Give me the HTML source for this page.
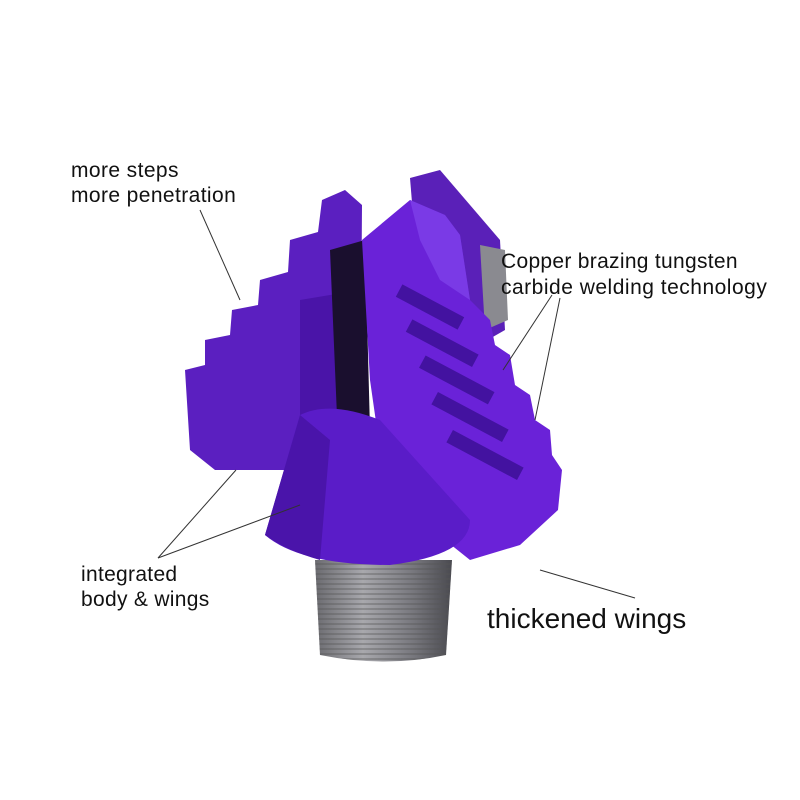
<!DOCTYPE html>
<html><head><meta charset="utf-8"><style>
html,body{margin:0;padding:0;background:#fff}
svg{display:block}
text{font-family:"Liberation Sans",Arial,sans-serif;fill:#111}
</style></head><body>
<svg width="800" height="800" viewBox="0 0 800 800" xmlns="http://www.w3.org/2000/svg">
<defs>
<linearGradient id="thr" x1="0" x2="1">
<stop offset="0" stop-color="#6b6b70"/><stop offset="0.35" stop-color="#a8a8ad"/><stop offset="0.7" stop-color="#7a7a80"/><stop offset="1" stop-color="#4a4a50"/>
</linearGradient>
<pattern id="lines" width="6" height="5" patternUnits="userSpaceOnUse">
<rect width="6" height="5" fill="none"/><line x1="0" y1="4" x2="6" y2="4" stroke="#555" stroke-width="1.2"/>
</pattern>
</defs>
<path d="M315 560 L452 560 L446 655 Q385 668 320 655 Z" fill="url(#thr)"/>
<path d="M315 560 L452 560 L446 655 Q385 668 320 655 Z" fill="url(#lines)" opacity="0.6"/>
<polygon points="410,178 440,170 500,240 505,330 470,350 420,300" fill="#5a20b8"/>
<polygon points="480,245 505,250 508,320 485,330" fill="#8a8a90"/>
<polygon points="185,370 205,365 205,340 230,335 232,310 258,305 260,280 288,272 290,240 318,232 322,200 345,190 362,205 360,480 300,470 215,470 190,450" fill="#5b1fc0"/>
<polygon points="300,300 360,290 360,480 300,470" fill="#4a14a8"/>
<polygon points="330,250 365,240 370,430 338,440" fill="#1a0f2e"/>
<polygon points="362,240 410,200 445,215 460,235 470,300 490,320 495,345 510,355 515,385 530,395 535,420 550,430 552,455 562,470 558,510 520,545 470,560 420,520 380,450 370,380" fill="#6a22d8"/>
<polygon points="410,200 445,215 460,235 470,300 440,280 420,240" fill="#7a3ae6"/>
<g fill="#4312a0">
<rect x="395" y="300" width="70" height="14" transform="rotate(28 430 307)"/>
<rect x="405" y="335" width="75" height="14" transform="rotate(28 440 342)"/>
<rect x="418" y="372" width="78" height="14" transform="rotate(28 455 379)"/>
<rect x="430" y="410" width="80" height="14" transform="rotate(28 470 417)"/>
<rect x="445" y="448" width="80" height="14" transform="rotate(28 485 455)"/>
</g>
<path d="M300 415 Q330 400 380 420 L470 520 Q470 555 390 565 Q300 565 265 535 Z" fill="#5a1cc8"/>
<path d="M300 415 L330 440 L320 560 Q285 550 265 535 Z" fill="#4a14aa"/>
<g stroke="#333" stroke-width="1" fill="none">
<line x1="200" y1="210" x2="240" y2="300"/>
<line x1="552" y1="295" x2="503" y2="370"/>
<line x1="560" y1="298" x2="535" y2="420"/>
<line x1="158" y1="558" x2="236" y2="470"/>
<line x1="158" y1="558" x2="300" y2="505"/>
<line x1="635" y1="598" x2="540" y2="570"/>
</g>
<text x="71" y="177" font-size="21" letter-spacing="0.4">more steps</text>
<text x="71" y="202" font-size="21" letter-spacing="0.4">more penetration</text>
<text x="501" y="268" font-size="21" letter-spacing="0.3">Copper brazing tungsten</text>
<text x="501" y="294" font-size="21" letter-spacing="0.5">carbide welding technology</text>
<text x="81" y="581" font-size="21" letter-spacing="0.3">integrated</text>
<text x="81" y="606" font-size="21" letter-spacing="0.3">body &amp; wings</text>
<text x="487" y="628" font-size="28">thickened wings</text>
</svg>
</body></html>
